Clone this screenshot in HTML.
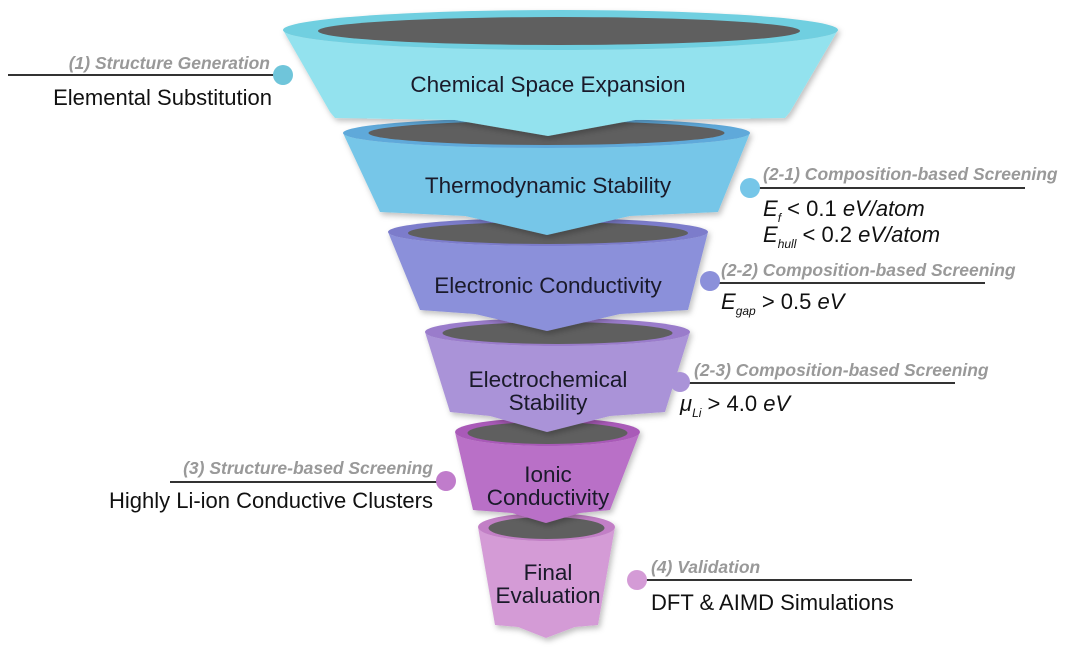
<!DOCTYPE html>
<html><head><meta charset="utf-8">
<style>
html,body{margin:0;padding:0;background:#fff;}
svg{display:block;}
text{font-family:"Liberation Sans",sans-serif;}
.h{font-size:17.5px;font-weight:bold;font-style:italic;fill:#999;}
.t{font-size:22px;fill:#111;}
.c{font-size:22.5px;fill:#1a1a2a;text-anchor:middle;}
.m{font-size:22px;font-style:italic;fill:#111;}
</style></head><body>
<svg width="1080" height="649" viewBox="0 0 1080 649" xmlns="http://www.w3.org/2000/svg">
<defs>
<filter id="sh" x="-10%" y="-10%" width="120%" height="130%"><feDropShadow dx="2" dy="3" stdDeviation="3" flood-color="#000" flood-opacity="0.25"/></filter>
</defs>
<!-- seg 6 -->
<g filter="url(#sh)">
<path d="M478 527 A68.5 14 0 0 0 615 527 L598 625 L575 627 L546 638 L518 627 L495 625 Z" fill="#d49bd6"/>
<ellipse cx="546.5" cy="527" rx="68.5" ry="14" fill="#c27fc6"/>
<ellipse cx="546.5" cy="528" rx="58" ry="11" fill="#5e5e5e"/>
</g>
<!-- seg 5 -->
<g filter="url(#sh)">
<path d="M455 432 A92.5 14 0 0 0 640 432 L610 510 L580 513 L546 523 L512 513 L473 510 Z" fill="#b96fc7"/>
<ellipse cx="547.5" cy="432" rx="92.5" ry="14" fill="#a95ab8"/>
<ellipse cx="547.5" cy="433" rx="80" ry="11" fill="#5e5e5e"/>
</g>
<!-- seg 4 -->
<g filter="url(#sh)">
<path d="M425 332 A132.5 14 0 0 0 690 332 L665 412 L610 416 L547 432 L490 416 L450 412 Z" fill="#aa93d8"/>
<ellipse cx="557.5" cy="332" rx="132.5" ry="14" fill="#9a7ccb"/>
<ellipse cx="557.5" cy="333" rx="115" ry="11" fill="#5e5e5e"/>
</g>
<!-- seg 3 -->
<g filter="url(#sh)">
<path d="M388 232 A160 14 0 0 0 708 232 L688 310 L620 314 L547 331 L475 314 L420 310 Z" fill="#8b90da"/>
<ellipse cx="548" cy="232" rx="160" ry="14" fill="#7b7ccb"/>
<ellipse cx="548" cy="233" rx="140" ry="11" fill="#5e5e5e"/>
</g>
<!-- seg 2 -->
<g filter="url(#sh)">
<path d="M343 133 A203.5 15 0 0 0 750 133 L718 212 L630 216 L547 235 L465 216 L380 212 Z" fill="#76c6e8"/>
<ellipse cx="546.5" cy="133" rx="203.5" ry="15" fill="#5ea9da"/>
<ellipse cx="546.5" cy="133" rx="178" ry="12" fill="#5e5e5e"/>
</g>
<!-- seg 1 -->
<g filter="url(#sh)">
<path d="M283 30 A277.5 20 0 0 0 838 30 L790 112 L785 118 L635 120 L548 136 L455 120 L335 118 L330 112 Z" fill="#93e2ee"/>
<ellipse cx="560.5" cy="30" rx="277.5" ry="20" fill="#6fcfe0"/>
<ellipse cx="559" cy="31" rx="241" ry="14" fill="#5e5e5e"/>
</g>
<!-- funnel labels -->
<text class="c" x="548" y="92">Chemical Space Expansion</text>
<text class="c" x="548" y="193">Thermodynamic Stability</text>
<text class="c" x="548" y="293">Electronic Conductivity</text>
<text class="c" x="548" y="387">Electrochemical</text>
<text class="c" x="548" y="410">Stability</text>
<text class="c" x="548" y="482">Ionic</text>
<text class="c" x="548" y="505">Conductivity</text>
<text class="c" x="548" y="580">Final</text>
<text class="c" x="548" y="603">Evaluation</text>
<!-- (1) -->
<line x1="8" y1="75" x2="280" y2="75" stroke="#333" stroke-width="2"/>
<circle cx="283" cy="75" r="10" fill="#6fc5da"/>
<text class="h" x="270" y="69" text-anchor="end">(1) Structure Generation</text>
<text class="t" x="272" y="105" text-anchor="end">Elemental Substitution</text>
<!-- (2-1) -->
<line x1="752" y1="188" x2="1025" y2="188" stroke="#333" stroke-width="2"/>
<circle cx="750" cy="188" r="10" fill="#76c6e8"/>
<text class="h" x="763" y="180">(2-1) Composition-based Screening</text>
<text class="m" x="763" y="216">E<tspan font-size="12" dy="6">f</tspan><tspan dy="-6" font-style="normal"> &lt; 0.1 </tspan>eV/atom</text>
<text class="m" x="763" y="242">E<tspan font-size="12" dy="6">hull</tspan><tspan dy="-6" font-style="normal"> &lt; 0.2 </tspan>eV/atom</text>
<!-- (2-2) -->
<line x1="712" y1="283" x2="985" y2="283" stroke="#333" stroke-width="2"/>
<circle cx="710" cy="281" r="10" fill="#8b90da"/>
<text class="h" x="721" y="276">(2-2) Composition-based Screening</text>
<text class="m" x="721" y="309">E<tspan font-size="12" dy="6">gap</tspan><tspan dy="-6" font-style="normal"> &gt; 0.5 </tspan>eV</text>
<!-- (2-3) -->
<line x1="682" y1="383" x2="955" y2="383" stroke="#333" stroke-width="2"/>
<circle cx="680" cy="382" r="10" fill="#aa93d8"/>
<text class="h" x="694" y="376">(2-3) Composition-based Screening</text>
<text class="m" x="680" y="411">μ<tspan font-size="12" dy="6">Li</tspan><tspan dy="-6" font-style="normal"> &gt; 4.0 </tspan>eV</text>
<!-- (3) -->
<line x1="170" y1="482" x2="440" y2="482" stroke="#333" stroke-width="2"/>
<circle cx="446" cy="481" r="10" fill="#c07ccb"/>
<text class="h" x="433" y="474" text-anchor="end">(3) Structure-based Screening</text>
<text class="t" x="433" y="508" text-anchor="end">Highly Li-ion Conductive Clusters</text>
<!-- (4) -->
<line x1="640" y1="580" x2="912" y2="580" stroke="#333" stroke-width="2"/>
<circle cx="637" cy="580" r="10" fill="#d49bd6"/>
<text class="h" x="651" y="573">(4) Validation</text>
<text class="t" x="651" y="610">DFT &amp; AIMD Simulations</text>
</svg>
</body></html>
